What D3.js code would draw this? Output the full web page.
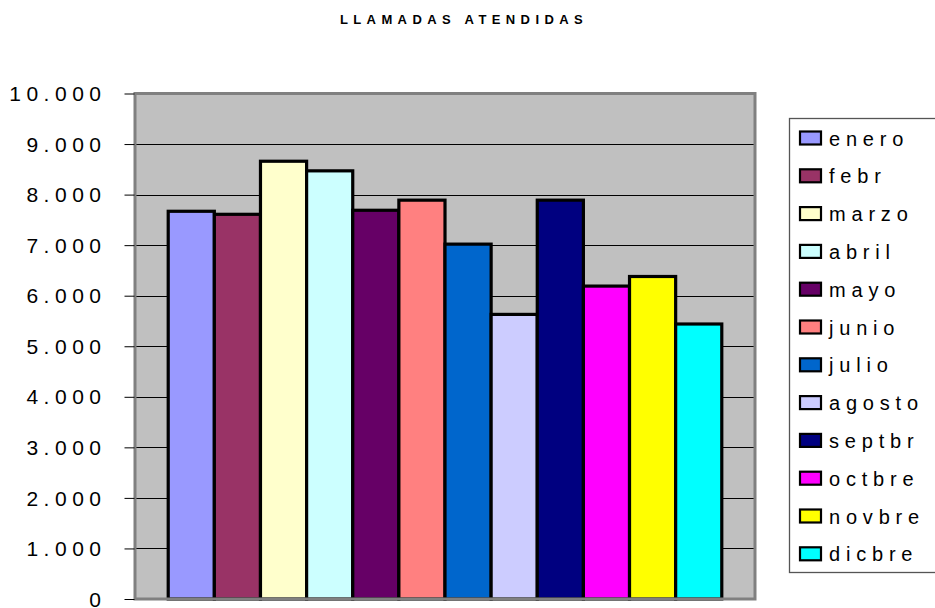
<!DOCTYPE html>
<html>
<head>
<meta charset="utf-8">
<script src="https://cdn.jsdelivr.net/npm/d3@7"></script>
<style>
  html, body { margin: 0; padding: 0; background: #fff; }
  svg { display: block; font-family: "Liberation Sans", Arial, sans-serif; }
</style>
</head>
<body>
<svg id="chart" width="935" height="608"></svg>
<script>
// Monthly answered calls
const months = ["enero", "febr", "marzo", "abril", "mayo", "junio",
                "julio", "agosto", "septbr", "octbre", "novbre", "dicbre"];
const calls = [7670, 7610, 8660, 8470, 7690, 7890, 7020, 5630, 7890, 6190, 6380, 5440];
const colors = ["#9999FF", "#993366", "#FFFFCC", "#CCFFFF", "#660066", "#FF8080",
                "#0066CC", "#CCCCFF", "#000080", "#FF00FF", "#FFFF00", "#00FFFF"];
const yTicks = [0, 1000, 2000, 3000, 4000, 5000, 6000, 7000, 8000, 9000, 10000];
const title = "LLAMADAS ATENDIDAS";

const svg = d3.select("#chart");

const plot = { left: 135, right: 755, top: 93.5, bottom: 599 };

const x = d3.scaleBand()
  .domain(months)
  .range([plot.left, plot.right])
  .paddingInner(0)
  .paddingOuter(0.72);

const y = d3.scaleLinear()
  .domain([0, 10000])
  .range([plot.bottom, plot.top]);

// Title
svg.append("text")
  .attr("x", 464)
  .attr("y", 24)
  .attr("text-anchor", "middle")
  .style("font-size", "13px")
  .style("font-weight", "bold")
  .style("letter-spacing", "5.4px")
  .text(title);

// Plot background
svg.append("rect")
  .attr("x", plot.left).attr("y", plot.top)
  .attr("width", plot.right - plot.left)
  .attr("height", plot.bottom - plot.top)
  .attr("fill", "#C0C0C0");

// Gridlines
svg.append("g")
  .selectAll("line")
  .data(yTicks)
  .join("line")
  .attr("x1", plot.left).attr("x2", plot.right)
  .attr("y1", d => Math.round(y(d)) + 0.5)
  .attr("y2", d => Math.round(y(d)) + 0.5)
  .attr("stroke", "#000")
  .attr("stroke-width", 1);

// Bars
svg.append("g")
  .selectAll("rect")
  .data(months)
  .join("rect")
  .attr("x", d => x(d))
  .attr("y", (d, i) => y(calls[i]))
  .attr("width", x.bandwidth())
  .attr("height", (d, i) => y(0) - y(calls[i]))
  .attr("fill", (d, i) => colors[i])
  .attr("stroke", "#000")
  .attr("stroke-width", 3.2);

// Plot frame
svg.append("rect")
  .attr("x", plot.left).attr("y", plot.top)
  .attr("width", plot.right - plot.left)
  .attr("height", plot.bottom - plot.top)
  .attr("fill", "none")
  .attr("stroke", "#808080")
  .attr("stroke-width", 3);

// Y axis
const yAxis = d3.axisLeft(y)
  .tickValues(yTicks)
  .tickSize(10)
  .tickPadding(18)
  .tickFormat(d => d3.format(",")(d).replace(/,/g, "."));

const ga = svg.append("g")
  .attr("transform", `translate(${plot.left - 0.5},0)`)
  .call(yAxis);
ga.select(".domain").remove();
ga.selectAll(".tick line").attr("stroke", "#000");
ga.selectAll(".tick text")
  .attr("fill", "#000")
  .attr("dy", "0.34em")
  .style("font-size", "21px")
  .style("font-family", "'Liberation Sans', Arial, sans-serif")
  .style("letter-spacing", "5.5px");

// Legend
const legend = svg.append("g");
legend.append("rect")
  .attr("x", 789.5).attr("y", 118.5)
  .attr("width", 160).attr("height", 454)
  .attr("fill", "#fff")
  .attr("stroke", "#555")
  .attr("stroke-width", 1.3);

const step = 37.8;
const items = legend.selectAll("g.item")
  .data(months)
  .join("g")
  .attr("class", "item")
  .attr("transform", (d, i) => `translate(0,${138 + i * step})`);

items.append("rect")
  .attr("x", 800).attr("y", -6.5)
  .attr("width", 21).attr("height", 13)
  .attr("fill", (d, i) => colors[i])
  .attr("stroke", "#000")
  .attr("stroke-width", 2.2);

items.append("text")
  .attr("x", 829)
  .attr("y", 7.5)
  .style("font-size", "20px")
  .style("letter-spacing", "5.8px")
  .text(d => d);
</script>
</body>
</html>
